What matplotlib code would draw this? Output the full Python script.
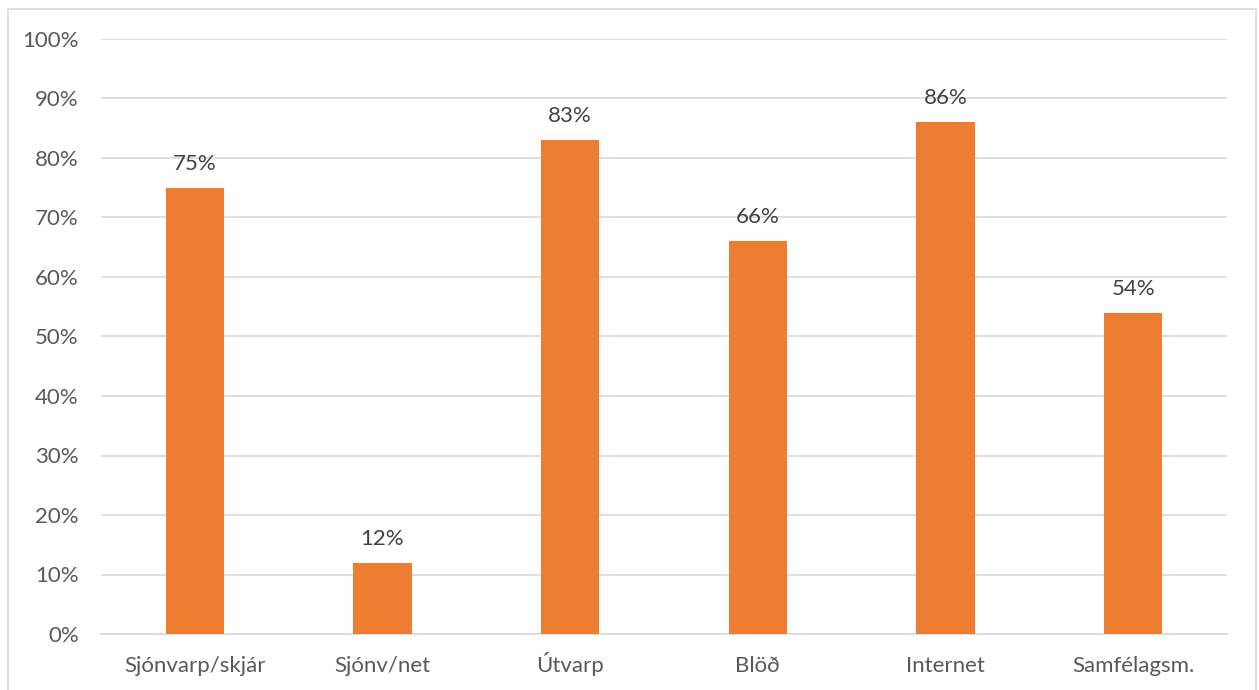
import matplotlib
matplotlib.use("Agg")
import matplotlib.pyplot as plt
from matplotlib.patches import Rectangle

categories = ["Sjónvarp/skjár", "Sjónv/net", "Útvarp", "Blöð", "Internet", "Samfélagsm."]
values = [75, 12, 83, 66, 86, 54]
yticks = [0, 10, 20, 30, 40, 50, 60, 70, 80, 90, 100]

plt.rcParams['font.family'] = ['Lato', 'DejaVu Sans']

W, H = 1259, 690
fig = plt.figure(figsize=(W / 100, H / 100), dpi=100)
ax = fig.add_axes([101 / W, 1 - 634 / H, (1227 - 101) / W, (634 - 39) / H])

x = list(range(len(categories)))
bars = ax.bar(x, values, width=0.3125, color="#ED7D31", zorder=3)
for xi, v in zip(x, values):
    ax.annotate(f"{v}%", (xi, v), xytext=(0, 10), textcoords="offset points",
                ha="center", va="bottom", fontsize=16, color="#404040")

ax.set_xlim(-0.5, len(categories) - 0.5)
ax.set_ylim(0, 100)
ax.set_yticks(yticks)
ax.set_yticklabels([f"{t}%" for t in yticks])
ax.set_xticks(x)
ax.set_xticklabels(categories)
ax.tick_params(axis="both", length=0, labelsize=16, labelcolor="#595959")
ax.tick_params(axis="y", pad=16)
ax.tick_params(axis="x", pad=27)
for lab in ax.get_xticklabels():
    lab.set_verticalalignment("baseline")
ax.grid(axis="y", color="#d9d9d9", linewidth=1.2, zorder=0)
for s in ["top", "right", "left"]:
    ax.spines[s].set_visible(False)
ax.spines["bottom"].set_color("#d9d9d9")
ax.spines["bottom"].set_linewidth(1.2)

fig.patches.append(Rectangle((8 / W, -0.01), (1256 - 8) / W, 1 - 9 / H + 0.01,
                             transform=fig.transFigure, fill=False,
                             edgecolor="#d9d9d9", linewidth=1.2))

fig.savefig("out.png", dpi=100)
